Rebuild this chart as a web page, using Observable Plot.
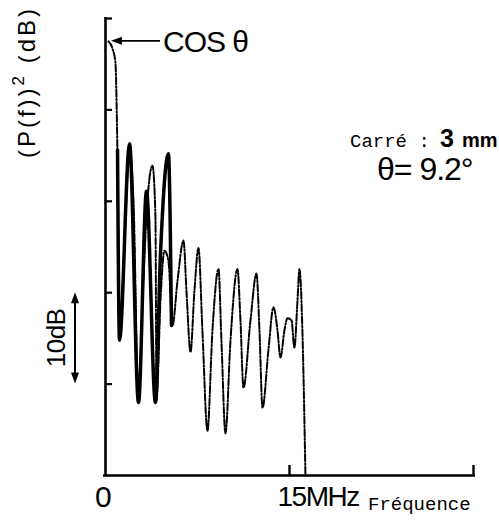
<!DOCTYPE html>
<html><head><meta charset="utf-8">
<script src="https://cdn.jsdelivr.net/npm/d3@7"></script>
<script src="https://cdn.jsdelivr.net/npm/@observablehq/plot@0.6"></script>
<style>body{margin:0;background:#fff}#c{width:499px;height:521px}</style>
</head><body><div id="c"></div>
<script>
// Theoretical spectrum (dash-dot), frequency in MHz, level in dB
const theoF  = [0.24,0.57,0.81,0.90,0.98,1.06,1.14,1.55,1.96,2.28,2.69,3.02,3.42,3.83,4.07,4.16,4.48,4.81,5.13,5.46,5.87,6.36,6.60,6.93,7.25,7.58,7.90,8.31,8.72,9.21,9.45,9.78,10.19,10.76,11.00,11.25,11.82,12.31,12.55,12.80,13.28,13.69,14.02,14.26,14.59,14.83,15.16,15.40,15.65,15.81,16.05,16.30];
const theoDB = [-2.5,-3.3,-4.8,-9.0,-15.5,-25.4,-35.2,-24.3,-14.4,-19.9,-41.8,-30.9,-19.9,-16.1,-21.6,-41.8,-30.9,-25.4,-26.5,-33.6,-28.7,-24.3,-29.8,-36.5,-29.8,-25.1,-34.1,-45.1,-34.1,-27.4,-35.2,-45.4,-35.2,-27.4,-33.0,-40.4,-33.0,-27.9,-34.1,-42.6,-36.3,-31.6,-34.1,-37.1,-34.1,-32.8,-33.0,-36.0,-30.9,-27.4,-34.1,-50];
// Measured spectrum (solid)
const measF  = [0.98,1.14,1.96,2.69,3.34,4.07,4.48,5.13,5.38];
const measDB = [-14.4,-35.2,-13.7,-42.0,-18.9,-42.0,-25.9,-14.8,-33.6];
const yTicks = [0,-10,-20,-30,-40];
const xTicks = [15,30];
const xTickLabels = ["0","15MHz"];
const xTickLabelF = [0,15];

const theo = theoF.map((f,i)=>({f, db: theoDB[i]}));
const meas = measF.map((f,i)=>({f, db: measDB[i]}));

const sans = "'Liberation Sans',Arial,sans-serif";
const mono = "'Liberation Mono','DejaVu Sans Mono',monospace";

const chart = Plot.plot({
  width: 499, height: 521,
  marginLeft: 105, marginRight: 26, marginTop: 18, marginBottom: 46,
  x: {domain: [0, 30], axis: null},
  y: {domain: [-50, 0], axis: null},
  marks: [
    Plot.ruleX([0], {stroke: "#000", strokeWidth: 2.6, insetTop: -1}),
    Plot.ruleY([-50], {stroke: "#000", strokeWidth: 2.6, insetLeft: -2, insetRight: -2}),
    Plot.axisY({ticks: yTicks, tickSize: -7, tickFormat: () => "", label: null, strokeWidth: 2.2, anchor: "left"}),
    Plot.axisX({ticks: xTicks, tickSize: -10, tickFormat: () => "", label: null, strokeWidth: 2.4, anchor: "bottom"}),
    Plot.line(theo, {x: "f", y: "db", stroke: "#000", strokeWidth: 2, strokeDasharray: "7,2,1.5,2", curve: "monotone-x"}),
    Plot.line(meas, {x: "f", y: "db", stroke: "#000", strokeWidth: 3.5, curve: "monotone-x"}),
    Plot.text([0], {x: i => xTickLabelF[i], y: () => -50, text: i => xTickLabels[i], dx: -3, dy: 22, fontSize: 30, fontFamily: sans, textAnchor: "middle"}),
    Plot.text([1], {x: i => xTickLabelF[i], y: () => -50, text: i => xTickLabels[i], dx: -12, dy: 22, fontSize: 28, fontFamily: sans, textAnchor: "start"})
  ]
});
document.getElementById("c").appendChild(chart);

const svg = d3.select(chart);
svg.selectAll('g[aria-label="text"] text').attr("letter-spacing", -1.5);
const xs = chart.scale("x"), ys = chart.scale("y");
const g = svg.append("g");

function txt(x, y, s, o = {}) {
  const t = g.append("text").attr("x", x).attr("y", y).text(s)
    .attr("font-family", o.family || sans).attr("font-size", o.size || 20)
    .attr("font-weight", o.weight || "normal").attr("fill", "#000")
    .attr("text-anchor", o.anchor || "start");
  if (o.ls) t.attr("letter-spacing", o.ls);
  if (o.rotate) t.attr("transform", `rotate(${o.rotate},${x},${y})`).attr("dominant-baseline", "middle");
  return t;
}

// y-axis title with superscript
const yt = txt(29, 82, "(P(f))", {size: 24, ls: 3, rotate: -90, anchor: "middle"});
yt.append("tspan").attr("font-size", 17).attr("dy", -9).text("2");
yt.append("tspan").attr("dy", 9).text(" (dB)");

// cos θ pointer
const tipX = xs.apply(theo[0].f) + 3, tipY = ys.apply(theo[0].db);
g.append("line").attr("x1", 160).attr("y1", tipY).attr("x2", tipX + 6).attr("y2", tipY).attr("stroke", "#000").attr("stroke-width", 1.8);
g.append("path").attr("d", `M${tipX},${tipY} l11,-4 l0,8 z`).attr("fill", "#000");
txt(163, tipY + 11, "COS θ", {size: 30, ls: -1});

// annotation
txt(350, 147, "Carré :", {family: mono, size: 19});
txt(440, 147, "3", {size: 25, weight: "bold"});
txt(462, 147, "mm", {size: 20, weight: "bold"});
txt(377, 180, "θ= 9.2°", {size: 32, ls: -1});

// 10 dB scale bar
const yA = ys.apply(yTicks[3]), yB = ys.apply(yTicks[4]);
g.append("line").attr("x1", 75).attr("x2", 75).attr("y1", yA + 6).attr("y2", yB - 6).attr("stroke", "#000").attr("stroke-width", 2);
g.append("path").attr("d", `M75,${yA} l-4,11 l8,0 z M75,${yB} l-4,-11 l8,0 z`).attr("fill", "#000");
txt(58, (yA + yB) / 2, "10dB", {size: 26, ls: -0.5, rotate: -90, anchor: "middle"});

// frequency label
txt(368, 510, "Fréquence", {family: mono, size: 19});
</script>
</body></html>
